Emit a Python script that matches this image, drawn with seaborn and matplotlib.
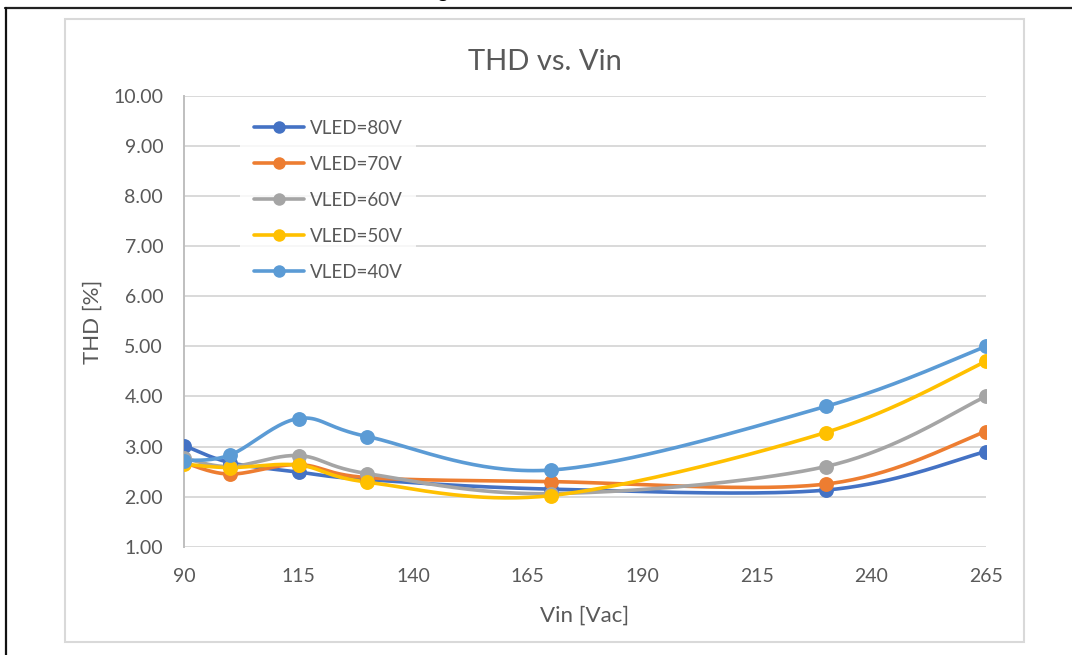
import numpy as np
import pandas as pd
import seaborn as sns
import matplotlib.pyplot as plt
from matplotlib.lines import Line2D
from matplotlib.patches import Rectangle

#========================================================================================================
# Data
#========================================================================================================

vin = [90, 100, 115, 130, 170, 230, 265]

thd_80v = [3.02, 2.68, 2.49, 2.34, 2.15, 2.13, 2.90]
thd_70v = [2.68, 2.45, 2.64, 2.38, 2.30, 2.25, 3.30]
thd_60v = [2.77, 2.60, 2.82, 2.46, 2.06, 2.60, 4.00]
thd_50v = [2.65, 2.58, 2.63, 2.29, 2.02, 3.28, 4.70]
thd_40v = [2.72, 2.83, 3.56, 3.20, 2.53, 3.80, 5.00]

series_names = ['VLED=80V', 'VLED=70V', 'VLED=60V', 'VLED=50V', 'VLED=40V']
series_values = [thd_80v, thd_70v, thd_60v, thd_50v, thd_40v]
series_colors = ['#4472C4', '#ED7D31', '#A5A5A5', '#FFC000', '#5B9BD5']

x_ticks = [90, 115, 140, 165, 190, 215, 240, 265]
y_ticks = [1, 2, 3, 4, 5, 6, 7, 8, 9, 10]

#========================================================================================================
# Helpers
#========================================================================================================

#Excel-style smoothed line (bezier with catmull-rom control points)
def smooth_line(xs, ys, n=40):
    pts = np.column_stack([xs, ys]).astype(float)
    ext = np.vstack([pts[0], pts, pts[-1]])
    out = []
    t = np.linspace(0, 1, n)[:, None]
    for i in range(len(pts) - 1):
        p0, p3 = ext[i+1], ext[i+2]
        c1 = p0 + (ext[i+2] - ext[i]) / 6.0
        c2 = p3 - (ext[i+3] - ext[i+1]) / 6.0
        seg = (1-t)**3*p0 + 3*(1-t)**2*t*c1 + 3*(1-t)*t**2*c2 + t**3*p3
        out.append(seg if i == 0 else seg[1:])
    out = np.vstack(out)
    return out[:, 0], out[:, 1]

#========================================================================================================
# Plot
#========================================================================================================

sns.set_style("white")
plt.rcParams['font.family'] = ['Lato', 'DejaVu Sans']
text_col = '#595959'
grid_col = '#D9D9D9'

W, H = 1072, 655
fig = plt.figure(figsize=(W/100, H/100), dpi=100)

#Axes placed in pixel coordinates of the reference
ax = fig.add_axes([184/W, 1-546.7/H, (986-184)/W, (546.7-96)/H])

smooth_rows = []
point_rows = []
for name, vals in zip(series_names, series_values):
    sx, sy = smooth_line(vin, vals)
    for a, b in zip(sx, sy):
        smooth_rows.append({'Vin': a, 'THD': b, 'series': name})
    for a, b in zip(vin, vals):
        point_rows.append({'Vin': a, 'THD': b, 'series': name})
smooth_df = pd.DataFrame(smooth_rows)
point_df = pd.DataFrame(point_rows)
palette = dict(zip(series_names, series_colors))

for name in series_names:
    sns.lineplot(data=smooth_df[smooth_df.series == name], x='Vin', y='THD', color=palette[name],
                 lw=2.6, sort=False, estimator=None, ax=ax, legend=False, zorder=3)
    sns.scatterplot(data=point_df[point_df.series == name], x='Vin', y='THD', color=palette[name],
                    s=115, linewidth=0, ax=ax, legend=False, zorder=4)

ax.set_xlim(90, 265)
ax.set_ylim(1, 10)
ax.set_xticks(x_ticks)
ax.set_yticks(y_ticks)
ax.set_yticklabels([f"{v:.2f}" for v in y_ticks])
ax.tick_params(axis='both', length=0, labelsize=14, colors=text_col, pad=15)
ax.set_xlabel('')
ax.set_ylabel('')
ax.grid(axis='y', color=grid_col, lw=1.4)
ax.grid(axis='x', visible=False)
for s in ['top', 'right', 'bottom']:
    ax.spines[s].set_visible(False)
ax.spines['left'].set_color('#BFBFBF')
ax.spines['left'].set_linewidth(1.4)

#Legend
handles = [Line2D([0], [0], color=c, lw=2.6, marker='o', markersize=9, markeredgewidth=0)
           for c in series_colors]
leg = fig.legend(handles, series_names, loc='upper left', bbox_to_anchor=(231/W, 1-97/H),
                 frameon=True, fancybox=False, fontsize=13.5, labelcolor=text_col,
                 handlelength=2.7, handletextpad=0.3, labelspacing=1.02, borderpad=0.7)
leg.get_frame().set_facecolor('white')
leg.get_frame().set_edgecolor('none')
leg.set_zorder(5)

#Titles and axis labels
fig.text(544.5/W, 1-62/H, 'THD vs. Vin', ha='center', va='center', fontsize=21, color=text_col)
fig.text(93/W, 1-322/H, 'THD [%]', ha='center', va='center', rotation=90, fontsize=16, color=text_col)
fig.text(585/W, 1-616/H, 'Vin [Vac]', ha='center', va='center', fontsize=16, color=text_col)

#Chart area border and the outer page frame
fig.patches.append(Rectangle((65/W, 1-642/H), (1024-65)/W, (642-19)/H, transform=fig.transFigure,
                             fill=False, edgecolor=grid_col, lw=1.5))
fig.lines.append(Line2D([5/W, 1], [1-7.5/H, 1-7.5/H], transform=fig.transFigure, color='#222222', lw=1.6))
fig.lines.append(Line2D([6/W, 6/W], [0, 1-7.5/H], transform=fig.transFigure, color='#111111', lw=1.6))
fig.text(443/W, 1+1.5/H, 'g', ha='center', va='baseline', fontsize=14, fontweight='bold', color='black')

plt.savefig('out.png', dpi=100)
plt.close()
